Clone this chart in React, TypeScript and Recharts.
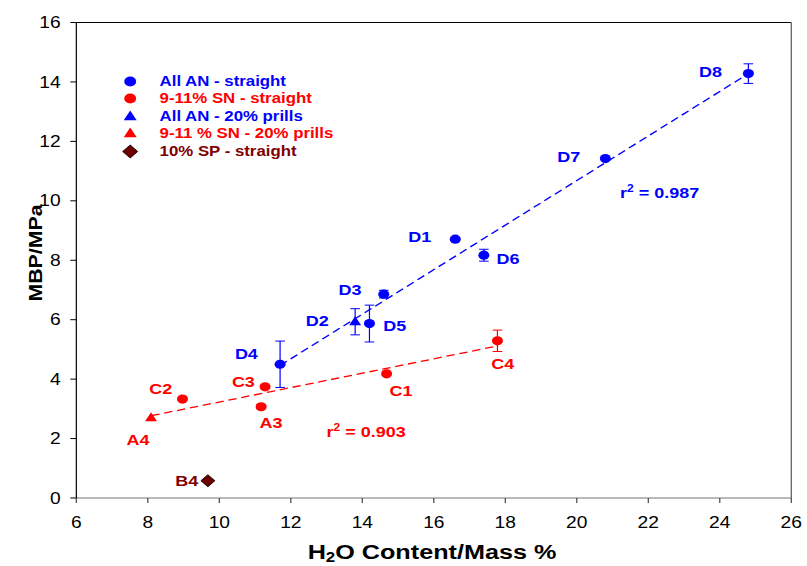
import React from 'react'
import {
  ScatterChart,
  Scatter,
  XAxis,
  YAxis,
  ErrorBar,
  ReferenceLine,
  ReferenceDot,
  Legend,
  Label,
} from 'recharts'

const FONT = '"Liberation Sans", Arial, Helvetica, sans-serif'
const BLUE = '#0000ff'
const RED = '#ff0000'
const MAROON = '#800000'

// the reference picture is stretched sideways, so draw narrow and scale x
const STRETCH = 1.2
const W = 807 / STRETCH
const H = 566

// All AN - straight
const anNames = ['D4', 'D5', 'D3', 'D1', 'D6', 'D7', 'D8']
const anWater = [11.7, 14.2, 14.6, 16.6, 17.4, 20.8, 24.8]
const anMbp = [4.5, 5.87, 6.86, 8.71, 8.17, 11.42, 14.28]
const anErr = [0.78, 0.62, 0.13, 0.05, 0.2, 0, 0.33]

// 9-11% SN - straight
const snNames = ['C2', 'C3', 'A3', 'C1', 'C4']
const snWater = [8.97, 11.28, 11.17, 14.68, 17.78]
const snMbp = [3.33, 3.74, 3.07, 4.18, 5.29]
const snErr = [0, 0, 0.07, 0, 0.36]

// All AN - 20% prills
const anPrillNames = ['D2']
const anPrillWater = [13.8]
const anPrillMbp = [5.93]
const anPrillErr = [0.44]

// 9-11 % SN - 20% prills
const snPrillNames = ['A4']
const snPrillWater = [8.09]
const snPrillMbp = [2.7]

// 10% SP - straight
const spNames = ['B4']
const spWater = [9.68]
const spMbp = [0.58]

// linear fits
const anFitWater = [11.7, 24.8]
const anFitMbp = [4.46, 14.28]
const snFitWater = [8.1, 17.8]
const snFitMbp = [2.77, 5.12]

const xTicks = [6, 8, 10, 12, 14, 16, 18, 20, 22, 24, 26]
const yTicks = [0, 2, 4, 6, 8, 10, 12, 14, 16]

type Kind = 'circle' | 'triangle' | 'diamond'

const legendItems: { label: string; kind: Kind; color: string }[] = [
  { label: 'All AN - straight', kind: 'circle', color: BLUE },
  { label: '9-11% SN - straight', kind: 'circle', color: RED },
  { label: 'All AN - 20% prills', kind: 'triangle', color: BLUE },
  { label: '9-11 % SN - 20% prills', kind: 'triangle', color: RED },
  { label: '10% SP - straight', kind: 'diamond', color: MAROON },
]

// where each point's name sits relative to its marker
const labelPlace: Record<string, { anchor: 'start' | 'middle' | 'end'; dx: number; dy: number }> = {
  D8: { anchor: 'end', dx: -22, dy: 3 },
  D7: { anchor: 'end', dx: -21, dy: 3.5 },
  D1: { anchor: 'end', dx: -20, dy: 2.5 },
  D6: { anchor: 'start', dx: 10.5, dy: 9 },
  D3: { anchor: 'end', dx: -18.5, dy: 0.5 },
  D2: { anchor: 'end', dx: -22, dy: 4 },
  D5: { anchor: 'start', dx: 11.5, dy: 7.5 },
  D4: { anchor: 'end', dx: -18.5, dy: -5.5 },
  C2: { anchor: 'end', dx: -8.5, dy: -5.5 },
  C3: { anchor: 'end', dx: -8.5, dy: 0 },
  A3: { anchor: 'middle', dx: 8.3, dy: 21 },
  C1: { anchor: 'middle', dx: 12, dy: 22.5 },
  C4: { anchor: 'middle', dx: 4.4, dy: 28.5 },
  A4: { anchor: 'middle', dx: -10.8, dy: 27.5 },
  B4: { anchor: 'end', dx: -8, dy: 5.3 },
}

const toPoints = (names: string[], xs: number[], ys: number[], errs?: number[]) =>
  names.map((name, i) => ({ name, x: xs[i], y: ys[i], err: errs ? errs[i] : 0 }))

const anData = toPoints(anNames, anWater, anMbp, anErr)
const snData = toPoints(snNames, snWater, snMbp, snErr)
const anPrillData = toPoints(anPrillNames, anPrillWater, anPrillMbp, anPrillErr)
const snPrillData = toPoints(snPrillNames, snPrillWater, snPrillMbp)
const spData = toPoints(spNames, spWater, spMbp)

function marker(kind: Kind, cx: number, cy: number, color: string, s = 1) {
  if (kind === 'circle') return <circle cx={cx} cy={cy} r={4.6 * s} fill={color} />
  if (kind === 'triangle')
    return (
      <polygon
        points={`${cx},${cy - 5.6 * s} ${cx - 5 * s},${cy + 3.4 * s} ${cx + 5 * s},${cy + 3.4 * s}`}
        fill={color}
      />
    )
  return (
    <polygon
      points={`${cx},${cy - 6 * s} ${cx + 5.8 * s},${cy} ${cx},${cy + 6 * s} ${cx - 5.8 * s},${cy}`}
      fill="#6e0000"
      stroke="#000"
      strokeWidth={0.8}
    />
  )
}

function makeShape(kind: Kind, color: string) {
  return (props: any) => {
    const { cx, cy, payload } = props
    const place = labelPlace[payload.name]
    return (
      <g>
        {marker(kind, cx, cy, color)}
        <text
          x={cx + place.dx}
          y={cy + place.dy}
          textAnchor={place.anchor}
          fill={color}
          fontSize={15}
          fontWeight="bold"
          fontFamily={FONT}
        >
          {payload.name}
        </text>
      </g>
    )
  }
}

function LegendBox() {
  return (
    <div style={{ fontFamily: FONT, fontWeight: 'bold', fontSize: 14 }}>
      {legendItems.map((item) => (
        <div key={item.label} style={{ display: 'flex', alignItems: 'center', height: 17.5 }}>
          <svg width={17} height={17} style={{ flex: 'none' }}>
            {marker(item.kind, 8.5, 8.5, item.color, 1.08)}
          </svg>
          <span style={{ marginLeft: 16, color: item.color, whiteSpace: 'nowrap', lineHeight: '17.5px' }}>
            {item.label}
          </span>
        </div>
      ))}
    </div>
  )
}

function rSquared(value: string, color: string) {
  return (props: any) => (
    <text
      x={props.cx}
      y={props.cy + 5.4}
      fill={color}
      fontSize={15}
      fontWeight="bold"
      fontFamily={FONT}
    >
      r<tspan fontSize={10} dy={-6}>2</tspan>
      <tspan dy={6}>{` = ${value}`}</tspan>
    </text>
  )
}

export default function App() {
  return (
    <div
      style={{
        position: 'absolute',
        left: 0,
        top: 0,
        width: 807,
        height: 566,
        overflow: 'hidden',
        background: '#fff',
      }}
    >
      <div style={{ width: W, height: H, transform: `scaleX(${STRETCH})`, transformOrigin: '0 0' }}>
        <ScatterChart width={W} height={H} margin={{ top: 22.5, right: 13.1, bottom: 28, left: 0 }}>
          <XAxis
            type="number"
            dataKey="x"
            domain={[6, 26]}
            ticks={xTicks}
            height={40}
            tickSize={5}
            tickMargin={14}
            tick={{ fontSize: 16, fill: '#000', fontFamily: FONT }}
            tickLine={{ stroke: '#444' }}
            axisLine={{ stroke: '#777' }}
          >
            <Label
              content={() => (
                <text x={360} y={559} textAnchor="middle" fontSize={21} fontWeight="bold" fontFamily={FONT} fill="#000">
                  H<tspan fontSize={14} dy={3}>2</tspan>
                  <tspan dy={-3}>O Content/Mass %</tspan>
                </text>
              )}
            />
          </XAxis>
          <YAxis
            type="number"
            dataKey="y"
            domain={[0, 16]}
            ticks={yTicks}
            width={63.6}
            tickSize={5}
            tickMargin={8}
            tick={{ fontSize: 16, fill: '#000', fontFamily: FONT }}
            tickLine={{ stroke: '#000' }}
            axisLine={{ stroke: '#000' }}
          >
            <Label
              content={() => (
                <text
                  x={34.7}
                  y={253}
                  transform="rotate(-90 34.7 253)"
                  textAnchor="middle"
                  fontSize={16}
                  fontWeight="bold"
                  fontFamily={FONT}
                  fill="#000"
                  textLength={97}
                  lengthAdjust="spacingAndGlyphs"
                >
                  MBP/MPa
                </text>
              )}
            />
          </YAxis>
          <ReferenceLine y={16} stroke="#000" />
          <ReferenceLine x={26} stroke="#555" />
          <ReferenceLine
            segment={[
              { x: anFitWater[0], y: anFitMbp[0] },
              { x: anFitWater[1], y: anFitMbp[1] },
            ]}
            stroke={BLUE}
            strokeWidth={1.3}
            strokeDasharray="7 4"
          />
          <ReferenceLine
            segment={[
              { x: snFitWater[0], y: snFitMbp[0] },
              { x: snFitWater[1], y: snFitMbp[1] },
            ]}
            stroke={RED}
            strokeWidth={1.3}
            strokeDasharray="7 4"
          />
          <ReferenceDot x={21.21} y={10.26} r={0} shape={rSquared('0.987', BLUE)} />
          <ReferenceDot x={13.0} y={2.23} r={0} shape={rSquared('0.903', RED)} />
          <Legend
            layout="horizontal"
            verticalAlign="middle"
            align="center"
            content={() => <LegendBox />}
            wrapperStyle={{ left: 100, top: 72.5, width: 260, height: 'auto' }}
          />
          <Scatter name="All AN - straight" data={anData} shape={makeShape('circle', BLUE)} isAnimationActive={false}>
            <ErrorBar dataKey="err" direction="y" width={4} stroke={BLUE} strokeWidth={1} />
          </Scatter>
          <Scatter name="9-11% SN - straight" data={snData} shape={makeShape('circle', RED)} isAnimationActive={false}>
            <ErrorBar dataKey="err" direction="y" width={4} stroke={RED} strokeWidth={1} />
          </Scatter>
          <Scatter
            name="All AN - 20% prills"
            data={anPrillData}
            shape={makeShape('triangle', BLUE)}
            isAnimationActive={false}
          >
            <ErrorBar dataKey="err" direction="y" width={4} stroke={BLUE} strokeWidth={1} />
          </Scatter>
          <Scatter
            name="9-11 % SN - 20% prills"
            data={snPrillData}
            shape={makeShape('triangle', RED)}
            isAnimationActive={false}
          />
          <Scatter name="10% SP - straight" data={spData} shape={makeShape('diamond', MAROON)} isAnimationActive={false} />
        </ScatterChart>
      </div>
    </div>
  )
}
